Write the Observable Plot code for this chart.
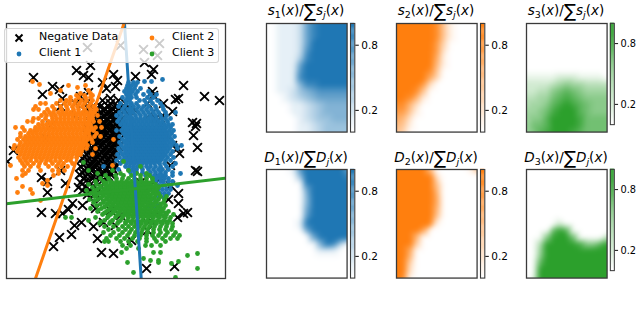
<!DOCTYPE html>
<html>
<head>
<meta charset="utf-8">
<script src="https://cdn.jsdelivr.net/npm/d3@7"></script>
<script src="https://cdn.jsdelivr.net/npm/@observablehq/plot@0.6"></script>
<style>
html,body{margin:0;padding:0;background:#fff;}
#chart{position:relative;width:640px;height:311px;overflow:hidden;font-family:"DejaVu Sans",sans-serif;color:#000;}
.abs{position:absolute;}
.title{position:absolute;width:120px;text-align:center;font-size:13.5px;line-height:20px;white-space:nowrap;}
.title i{font-style:oblique;}
.title .sb{font-size:9.5px;position:relative;top:3px;}
.title .sg{font-size:18px;position:relative;top:2px;line-height:0;}
.lg{position:absolute;left:3.5px;top:28px;width:215px;height:35px;background:rgba(255,255,255,.8);border:1px solid rgba(204,204,204,.8);border-radius:3px;box-sizing:border-box;}
.lgt{position:absolute;font-size:11px;line-height:12px;white-space:nowrap;}
.lgm{position:absolute;}
</style>
</head>
<body>
<div id="chart"></div>
<script>
// ---- scatter readings: each row is [vertical reading, [horizontal readings]] ----
const negativeRows = [
[43,[159]],[45,[120]],[47,[87]],[49,[143]],[55,[157]],[62,[144]],[65,[90]],[69,[153]],[70,[76]],[74,[113,151]],[75,[83]],[76,[135]],[77,[33,88]],
[80,[117]],[82,[102]],[85,[183]],[86,[52,115]],[88,[106]],[89,[59]],[91,[152]],[92,[88]],[94,[42]],[95,[153]],[96,[80,204]],[98,[62,110,178]],[99,[175]],
[100,[219,102,118]],[103,[147,163,85,75,110,125]],[106,[92,100,108,116,122,60]],[108,[88,96,104,112,120]],[110,[95,103,110,118,124,130,85,135]],[111,[172]],[112,[93,101,108,116]],[114,[90,98,106,112,120,128,150]],[115,[162,75]],[116,[96,103,110,117]],
[118,[94,100,107,114,122,155]],[120,[92,99,106,113,119]],[122,[90,97,104,110,117,124,192]],[123,[196]],[124,[88,95,102,108,115,121]],[125,[50,160]],[126,[86,93,100,106,113,120,195]],[128,[88,95,101,108,114,120]],[130,[90,96,103,109,116,122]],[132,[88,94,101,107,114,120]],
[134,[86,92,99,105,112,118,165]],[135,[193]],[136,[90,97,103,110,116]],[138,[88,95,101,108,114,120,45]],[140,[86,93,99,106,112,118]],[142,[84,90,97,103,110,116]],[144,[88,95,101,108,114]],[145,[172]],[146,[87,94,100,106,112,118]],[147,[197]],[148,[85,92,98,105,111,117,177]],
[150,[13,83,90,96,103,109,115,135]],[152,[88,95,101,107,113]],[153,[179]],[154,[86,93,99,105,112,155]],[156,[84,91,97,104,110]],[158,[82,89,95,102,108,115]],[160,[87,94,100,107,113]],[161,[7]],[162,[85,92,98,105,111]],[164,[83,90,96,103,109]],[165,[170]],
[166,[80,88,94,101,108,116]],[168,[86,92,99,106,112]],[170,[60,84,91,98,105,113,195]],[171,[197]],[172,[82,89,96,103,110]],[174,[79,87,95,102,110]],[176,[85,93,100,108]],[177,[41]],[178,[83,92,100,107,160]],[180,[86,94,102]],[181,[47]],[182,[80,88,96,104,140]],
[183,[65]],[185,[150,170]],[186,[85,93,100]],[187,[78]],[190,[82,90,98]],[192,[47]],[193,[178]],[194,[87,94,130]],[198,[90,100]],[199,[168]],
[203,[72,178]],[205,[82,130]],[208,[95]],[209,[68]],[210,[154,110]],[212,[41,187]],[213,[55,62,183]],[215,[120,140]],[217,[177]],[220,[150]],[222,[81,103]],[225,[74,115]],[226,[93]],
[230,[147]],[234,[71]],[237,[59]],[238,[97]],[240,[131]],[246,[53]],[252,[101]],[253,[113]],[266,[174]],[268,[146]]
];
const clientOneRows = [
[79,[162]],[81,[144,151]],[82,[128,133,137]],[85,[127,131,135]],[88,[126,130,134,140]],[91,[124,128,132,137,148]],[94,[126,130,135,143,150,156]],
[97,[122,127,131,136,147,153]],[100,[125,129,139,144,150,157]],[103,[120,126,131,136,146,152,160]],[106,[118,124,133,138,143,148,155,162]],
[109,[122,127,131,136,141,146,151,156,163]],[112,[119,124,129,133,138,143,148,153,158,165,175]],[115,[116,121,126,130,135,140,145,150,155,160,166]],
[118,[119,124,128,132,136,140,144,148,152,156,161,165,170]],[121,[117,122,126,130,134,138,142,146,150,154,158,162,167]],[124,[120,124,128,132,136,140,144,148,152,156,160,164,168,172]],
[127,[123,126,130,134,138,142,146,150,154,158,162,166,170]],[128.5,[128,132,136,140,144,148,152,156,160,164]],[130,[116,121,125,129,133,137,141,145,149,153,157,161,165,169,173]],[131.5,[127,131,135,139,143,147,151,155,159,163]],[133,[123,127,131,135,139,143,147,151,155,159,163,167,171]],[134.5,[125,129,133,137,141,145,149,153,157,161,165]],
[136,[119,125,129,133,137,141,145,149,153,157,161,165,169,174]],[137.5,[127,131,135,139,143,147,151,155,159,163]],[139,[122,127,131,135,139,143,147,151,155,159,163,167,171]],[140.5,[125,129,133,137,141,145,149,153,157,161,165]],[142,[119,124,129,133,137,141,145,149,153,157,161,165,169,173]],[143.5,[127,131,135,139,143,147,151,155,159,163]],
[145,[121,126,131,135,139,143,147,151,155,159,163,167,171,176,181]],[146.5,[125,129,133,137,141,145,149,153,157,161,165]],[148,[118,123,128,133,137,141,145,149,153,157,161,165,169,177]],[149.5,[127,131,135,139,143,147,151,155,159,163]],[151,[120,125,130,135,139,143,147,151,155,159,163,167,172]],[152.5,[125,129,133,137,141,145,149,153,157,161]],
[154,[117,122,127,132,137,141,145,149,153,157,161,165,170]],[155.5,[127,131,135,139,143,147,151,155,159,163]],[157,[119,124,129,134,138,142,146,150,154,158,162,167,173]],[158.5,[125,129,133,137,141,145,149,153,157,161]],[160,[116,122,127,132,136,140,144,148,152,156,160,165,170]],[161.5,[130,134,138,142,146,150,154,158]],
[163,[120,126,130,134,138,142,146,150,154,159,164,175]],[166,[103,125,129,133,137,141,146,150,155,160,166,172]],[169,[118,128,132,136,142,148,153,158,162,168]],[172,[130,136,142,150,155,160,165,172]],
[173,[180]],[175,[145,150,154,158,162,165,172]],[178,[152,156,160,164,168]],[181,[155,160,163,168,172]],[185,[158,162,165,170,177]],[189,[150,158,162,166,170]],[193,[146,155,160,164,168]],[197,[150,158,163]],[201,[148,155]],[205,[150,157]],[208,[147,154,160]]
];
const clientTwoRows = [
[81,[32]],[84,[39]],[85,[68,85]],[87,[77]],[90,[60,88]],[93,[50,80,90]],[95,[76,84,92]],[97,[70,78,85,90]],[100,[60,66,70,75,81,86,92]],[103,[40,45,56,64,69,74,79,84,90]],[106,[35,52,60,66,72,77,82,88,93]],
[109,[33,38,47,54,61,67,73,78,84,90,96]],[112,[44,49,53,58,62,66,70,74,78,82,86,90,94]],[115,[41,46,51,55,60,64,68,72,76,80,84,88,92,97]],
[118,[33,38,45,52,56,60,64,68,72,76,80,84,88,92]],[121,[27,32,42,48,52,56,60,64,68,72,76,80,84,88,93,99]],[124,[38,42,46,50,54,58,62,66,70,74,78,82,86,90]],
[127,[15,22,35,39,43,47,51,55,59,63,67,71,75,79,83,87,91,95,101]],[130,[24,30,34,37,41,45,49,53,57,61,65,69,73,77,81,85,89,93]],[133,[20,28,32,36,40,44,48,52,56,60,64,68,72,76,80,84,88,96]],
[136,[20,25,29,33,37,41,45,49,53,57,61,65,69,73,77,81,85,89,94,100]],[139,[17,23,27,31,35,39,43,47,51,55,59,63,67,71,75,79,83,87,91,113]],[142,[20,25,29,33,37,41,45,49,53,57,61,65,69,73,77,81,85,92]],
[145,[14,19,23,27,31,35,39,43,47,51,55,59,63,67,71,75,79,83,87]],[148,[13,18,22,26,30,34,38,42,46,50,54,58,62,66,70,74,78,82,86,95]],[151,[17,21,25,29,33,37,41,45,49,53,57,61,65,69,73,77,81]],
[154,[20,24,28,32,36,40,44,48,52,56,60,64,68,72,76,80,92]],[157,[18,23,27,31,35,39,43,47,51,55,59,63,67,71,76]],[160,[20,25,30,36,41,46,50,55,60,66,70]],
[163,[22,27,33,39,45,52,58,63,72]],[165,[10,112]],[166,[24,30,38,48,56,61,67]],[170,[22,28,40,52,58,64]],[173,[25,58]],[175,[22,53]],[178,[16]],[180,[47]],[183,[42]],[185,[47]],[186,[22]],[189,[30]],[192,[17]],[193,[32]],[200,[40]]
];
const clientThreeRows = [
[161,[123]],[162,[83]],[166,[140]],[170,[88,112,128]],[173,[97,120,136,146]],[175,[105,115,123,131,140,149]],[178,[100,108,116,122,128,134,140,146,152]],
[181,[95,103,110,116,121,126,131,136,141,146,152]],[182.5,[106,112,118,124,129,134,139,144,149]],[184,[88,96,104,110,114,118,122,126,130,134,138,143,148,155]],[185.5,[100,107,112,116,120,124,128,132,136,140,145,151]],[187,[92,100,106,110,114,118,122,126,130,134,138,142,146,151,158]],[188.5,[97,104,108,112,116,120,124,128,132,136,140,144,149,154]],
[190,[86,95,103,108,112,116,120,124,128,132,136,140,144,149,156]],[191.5,[93,101,106,110,114,118,122,126,130,134,138,142,147,153]],[193,[90,99,105,110,114,118,122,126,130,134,138,142,146,152,158]],[194.5,[96,103,108,112,116,120,124,128,132,136,140,144,149,155]],[196,[94,102,108,113,117,121,125,129,133,137,141,145,150,160,166]],[197.5,[100,106,111,115,119,123,127,131,135,139,143,148,154]],
[199,[89,97,106,111,116,120,124,128,132,136,140,145,151,158,164]],[200.5,[94,103,109,114,118,122,126,130,134,138,142,148,155]],[202,[93,103,109,114,119,123,127,131,135,139,144,150,156,163]],[203.5,[100,107,112,117,121,125,129,133,137,142,147,153,160]],[205,[96,106,112,118,124,128,132,136,141,147,153,160,165]],[206.5,[104,110,115,120,126,130,134,139,144,150,157]],
[208,[90,101,110,116,122,127,131,135,140,145,151,157,163]],[209.5,[98,108,113,119,124,129,133,138,143,148,154,160]],[211,[97,106,114,120,126,130,135,140,145,150,156,162,168]],[212.5,[104,112,118,124,128,133,137,142,147,153,159,165]],[214,[102,110,118,124,129,134,139,144,149,154,160,166,173]],[215.5,[108,116,122,127,132,137,141,146,151,157,163]],
[217,[65,95,107,115,122,128,133,138,143,148,153,159,165,170]],[217,[71]],[220,[88,104,112,120,127,132,137,142,147,152,157,163,169]],[221.5,[100,110,118,125,130,135,140,145,150,155,160,166]],[223,[99,109,117,125,131,136,141,146,151,156,162,167,172]],
[226,[104,113,122,128,134,139,144,149,154,160,166,172]],[229,[108,118,125,131,137,142,147,153,159,165,171]],[232,[103,113,122,129,135,141,147,153,160,167,175]],
[235,[110,119,127,134,140,146,152,158,165,173,179]],[238,[106,116,124,132,139,146,154,162,170,177]],[241,[104,108,120,128,137,146,156,165]],[245,[122,130,145,151,160]],[248,[126,138]],
[252,[121,153,160]],[253,[197]],[255,[187]],[258,[143]],[260,[150,158]],[261,[178]],[262,[127,158]],[263,[171]],[268,[197]],[272,[133]],[277,[175]]
];
const boundaryOne = [{x:124,y:23},{x:140.7,y:278}];
const boundaryTwo = [{x:123.5,y:23},{x:35,y:278}];
const boundaryThree = [{x:6,y:203.3},{x:225,y:177.7}];

// ---- ratio maps: 17 rows of 13 columns, digit / 9 is the ratio ----
const s1Grid = ["0011126899999","0011126899999","0011126899999","0011126999999","0011127999999","0011138999999","0011169999999","0011179999999","0011189999999","0011158899999","0011245677777","0001234566666","0000112345555","0000112345555","0000012344555","0000011234444","0000011234444"];
const s2Grid = ["9999998410000","9999998410000","9999998410000","9999997300000","9999997200000","9999996100000","9999995100000","9999984000000","9999963000000","9999720000000","9998400000000","9985100000000","8852000000000","7741000000000","6520000000000","5410000000000","4300000000000"];
const s3Grid = ["0000000000000","0000000000000","0000000000000","0000000000000","0000000000000","0000000000000","0000000000000","0000000000000","1111122211110","2222345443333","2233567654444","3344678765555","3445789876555","4456899976555","4557999986666","4667999986666","4578999876666"];
const d1Grid = ["0000179999996","0000049999998","0000009999999","0000006999999","0000005999999","0000005999999","0000006999999","0000007999999","0000019999999","0000006999999","0000000699999","0000000059830","0000000011100","0000000000000","0000000000000","0000000000000","0000000000000"];
const d2Grid = ["9999950000015","9999992000000","9999994000000","9999995000000","9999996000000","9999996000000","9999995000000","9999994000000","9999991000000","9999600000000","9995000000000","9993000000000","9960000000000","9950000000000","9930000000000","9920000000000","9800000000000"];
const d3Grid = ["0000000000000","0000000000000","0000000000000","0000000000000","0000000000000","0000000000000","0000000000000","0000000000000","0000020000000","0000797000000","0005999600003","0039999985579","0049999999999","0059999999999","0079999999999","0099999999999","0199999999999"];

const blue = "#1f77b4", orange = "#ff7f0e", green = "#2ca02c";
const frameStroke = "#3a3a3a";
const barTicks = [0.2, 0.8];
const barLevels = d3.range(0, 100).map(d => d / 100);

const chart = document.getElementById("chart");
function place(node, left, top) {
  const w = document.createElement("div");
  w.className = "abs";
  w.style.left = left + "px";
  w.style.top = top + "px";
  w.style.lineHeight = 0;
  w.appendChild(node);
  chart.appendChild(w);
}
const rowsToPoints = rows => rows.flatMap(([y, xs]) => xs.map(x => ({x, y})));

// ---- scatter ----
const m = 2;
place(Plot.plot({
  width: 219 + 2 * m, height: 255 + 2 * m,
  marginLeft: m, marginRight: m, marginTop: m, marginBottom: m,
  x: {domain: [6, 225], axis: null},
  y: {domain: [278, 23], axis: null},
  style: {background: "transparent"},
  marks: [
    Plot.dot(rowsToPoints(negativeRows), {x: "x", y: "y", symbol: "times", r: 4.1, stroke: "#000", strokeWidth: 1.9, clip: true}),
    Plot.dot(rowsToPoints(clientOneRows), {x: "x", y: "y", r: 2.4, fill: blue, clip: true}),
    Plot.dot(rowsToPoints(clientTwoRows), {x: "x", y: "y", r: 2.4, fill: orange, clip: true}),
    Plot.dot(rowsToPoints(clientThreeRows), {x: "x", y: "y", r: 2.4, fill: green, clip: true}),
    Plot.line(boundaryOne, {x: "x", y: "y", stroke: blue, strokeWidth: 3, clip: true}),
    Plot.line(boundaryTwo, {x: "x", y: "y", stroke: orange, strokeWidth: 3, clip: true}),
    Plot.line(boundaryThree, {x: "x", y: "y", stroke: green, strokeWidth: 3, clip: true}),
    Plot.frame({stroke: frameStroke, strokeWidth: 1.3})
  ]
}), 6 - m, 23 - m);

// ---- legend ----
const lg = document.createElement("div");
lg.className = "lg";
chart.appendChild(lg);
function legendText(t, left, top) {
  const d = document.createElement("div");
  d.className = "lgt"; d.textContent = t;
  d.style.left = left + "px"; d.style.top = top + "px";
  chart.appendChild(d);
}
function legendMark(kind, color, cx, cy) {
  const ns = "http://www.w3.org/2000/svg";
  const s = document.createElementNS(ns, "svg");
  s.setAttribute("class", "lgm");
  s.setAttribute("width", 10); s.setAttribute("height", 10);
  s.style.left = (cx - 5) + "px"; s.style.top = (cy - 5) + "px";
  if (kind === "x") {
    const p = document.createElementNS(ns, "path");
    p.setAttribute("d", "M1.5 1.5L8.5 8.5M8.5 1.5L1.5 8.5");
    p.setAttribute("stroke", color); p.setAttribute("stroke-width", 2); p.setAttribute("fill", "none");
    s.appendChild(p);
  } else {
    const c = document.createElementNS(ns, "circle");
    c.setAttribute("cx", 5); c.setAttribute("cy", 5); c.setAttribute("r", 2.4); c.setAttribute("fill", color);
    s.appendChild(c);
  }
  chart.appendChild(s);
}
legendMark("x", "#000", 18.7, 38);
legendMark("o", blue, 18.7, 54);
legendMark("o", orange, 152, 38);
legendMark("o", green, 152, 54);
legendText("Negative Data", 39, 31);
legendText("Client 1", 39, 47);
legendText("Client 2", 172, 31);
legendText("Client 3", 172, 47);

// ---- ratio panels ----
function ratioPanel(grid, color, left, top) {
  const cells = grid.flatMap((row, j) => [...row].map((c, i) => ({col: i, row: j, v: +c / 9})));
  const colorScale = {type: "linear", domain: [0, 1], range: ["#ffffff", color]};
  place(Plot.plot({
    width: 80.6 + 2 * m, height: 108.6 + 2 * m,
    marginLeft: m, marginRight: m, marginTop: m, marginBottom: m,
    x: {domain: [0, 12], axis: null},
    y: {domain: [16, 0], axis: null},
    color: colorScale,
    style: {background: "transparent"},
    marks: [
      Plot.raster(cells, {x: "col", y: "row", fill: "v", interpolate: "barycentric", blur: 2, x1: 0, x2: 12, y1: 16, y2: 0}),
      Plot.frame({stroke: frameStroke, strokeWidth: 1.3})
    ]
  }), left - m, top - m);
  place(Plot.plot({
    width: 4.3 + 2 * m + 26, height: 108.6 + 2 * m,
    marginLeft: m, marginRight: m + 26, marginTop: m, marginBottom: m,
    x: {domain: [0, 1], axis: null},
    y: {domain: [0, 1]},
    color: colorScale,
    style: {background: "transparent", fontFamily: "DejaVu Sans", fontSize: "10.5px", color: "#000"},
    marks: [
      Plot.rect(barLevels, {x1: 0, x2: 1, y1: d => d, y2: d => d + 0.012, fill: d => d}),
      Plot.frame({stroke: frameStroke, strokeWidth: 1.1}),
      Plot.axisY(barTicks, {anchor: "right", tickSize: 3.5, tickPadding: 3, tickFormat: ".1f", label: null, stroke: "#000", fontSize: 10.5, fill: "#000"})
    ]
  }), left + 84.3 - m, top - m);
}
const panelLefts = [265.7, 395.7, 525.7];
const topRow = [s1Grid, s2Grid, s3Grid];
const bottomRow = [d1Grid, d2Grid, d3Grid];
const colors = [blue, orange, green];
panelLefts.forEach((l, i) => {
  ratioPanel(topRow[i], colors[i], l, 22.7);
  ratioPanel(bottomRow[i], colors[i], l, 169);
});

// ---- titles ----
function title(letter, n, left, top) {
  const d = document.createElement("div");
  d.className = "title";
  d.style.left = (left + 40.3 - 60) + "px";
  d.style.top = top + "px";
  d.innerHTML = `<i>${letter}</i><span class="sb">${n}</span>(<i>x</i>)/<span class="sg">∑</span><i>${letter}</i><span class="sb"><i>j</i></span>(<i>x</i>)`;
  chart.appendChild(d);
}
panelLefts.forEach((l, i) => {
  title("s", i + 1, l, 0);
  title("D", i + 1, l, 147);
});
</script>
</body>
</html>
